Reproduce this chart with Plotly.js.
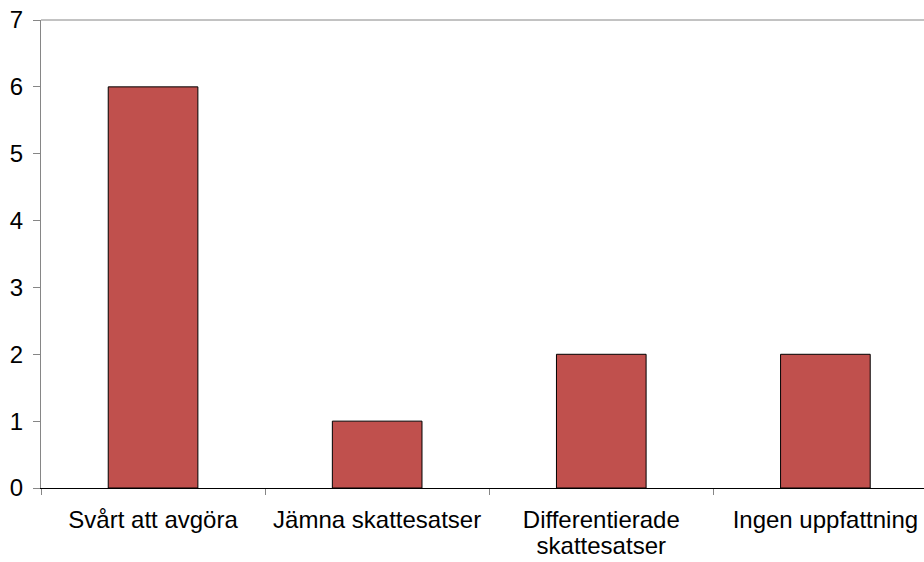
<!DOCTYPE html>
<html>
<head>
<meta charset="utf-8">
<script src="https://cdn.plot.ly/plotly-3.0.1.min.js"></script>
<style>html,body{margin:0;padding:0;background:#fff;}#chart{width:924px;height:562px;}</style>
</head>
<body>
<div id="chart"></div>
<script>
const categories = ["Svårt att avgöra", "Jämna skattesatser", "Differentierade<br>skattesatser", "Ingen uppfattning"];
const values = [6, 1, 2, 2];
const yTicks = [0, 1, 2, 3, 4, 5, 6, 7];

const trace = {
  type: "bar",
  x: categories,
  y: values,
  width: 0.4,
  marker: { color: "#C0504D", line: { color: "#000000", width: 1 } },
  hoverinfo: "skip"
};

const layout = {
  width: 924,
  height: 562,
  margin: { l: 41, r: 0, t: 20, b: 74 },
  paper_bgcolor: "#ffffff",
  plot_bgcolor: "#ffffff",
  showlegend: false,
  font: { family: "Liberation Sans, Arial, sans-serif", size: 24, color: "#000000" },
  xaxis: {
    type: "category",
    range: [-0.5, 3.44],
    showgrid: false,
    zeroline: false,
    showline: true,
    linecolor: "#000000",
    linewidth: 1,
    ticks: "outside",
    tickson: "boundaries",
    ticklen: 6,
    tickcolor: "#868686",
    tickwidth: 1,
    ticklabelstandoff: 10,
    tickfont: { size: 24, color: "#000000" }
  },
  yaxis: {
    range: [0, 7],
    tickvals: yTicks,
    showgrid: false,
    zeroline: false,
    showline: true,
    linecolor: "#868686",
    linewidth: 1,
    ticks: "outside",
    ticklen: 7,
    tickcolor: "#868686",
    tickwidth: 1,
    ticklabelstandoff: 5,
    tickfont: { size: 24, color: "#000000" }
  },
  shapes: [
    { type: "line", xref: "paper", yref: "paper", x0: 0, x1: 1, y0: 1, y1: 1,
      line: { color: "#868686", width: 1 } }
  ]
};

Plotly.newPlot("chart", [trace], layout, { staticPlot: true, displayModeBar: false }).then(function (gd) {
  // tighten line spacing of multi-line category labels to match the reference
  gd.querySelectorAll(".xtick text tspan.line").forEach(function (t, i) {
    if (t.getAttribute("dy") && t.getAttribute("dy") !== "0em") t.setAttribute("dy", "1.1em");
  });
});
</script>
</body>
</html>
